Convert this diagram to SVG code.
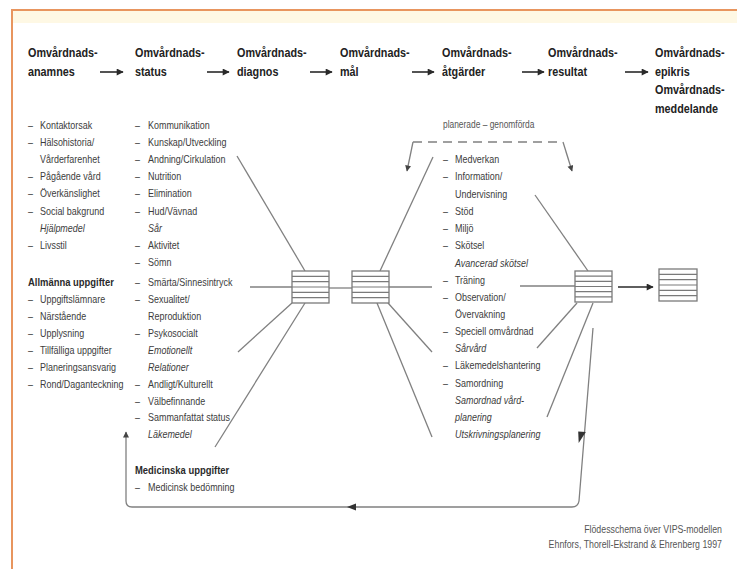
<svg xmlns="http://www.w3.org/2000/svg" width="737" height="569" viewBox="0 0 737 569">
<defs>
<style>
.h{font-family:"Liberation Sans",Arial,sans-serif;font-weight:bold;font-size:13.5px;fill:#222}
.t{font-family:"Liberation Sans",Arial,sans-serif;font-size:11.2px;fill:#3c3c3c}
.i{font-style:italic}
.b{font-family:"Liberation Sans",Arial,sans-serif;font-weight:bold;font-size:11.8px;fill:#2a2a2a}
.c{font-family:"Liberation Sans",Arial,sans-serif;font-size:10.5px;fill:#555}
.cap{font-family:"Liberation Sans",Arial,sans-serif;font-size:11px;fill:#555}
.ln{stroke:#808080;stroke-width:1.3;fill:none}
.ha{stroke:#2a2a2a;stroke-width:1.6;fill:none}
.box rect{fill:#fff;stroke:#7a7a7a;stroke-width:1.3}
.box line{stroke:#7a7a7a;stroke-width:1.2}
.ah{fill:#333}
</style>
<marker id="arr" viewBox="0 0 10 10" refX="9" refY="5" markerUnits="userSpaceOnUse" markerWidth="8" markerHeight="7" orient="auto">
<path d="M0,0 L10,5 L0,10 z" fill="#2a2a2a"/>
</marker>
<marker id="arrg" viewBox="0 0 10 10" refX="9" refY="5" markerUnits="userSpaceOnUse" markerWidth="7" markerHeight="6" orient="auto">
<path d="M0,0 L10,5 L0,10 z" fill="#444"/>
</marker>
</defs>
<rect x="0" y="0" width="737" height="569" fill="#fff"/>
<rect x="12" y="10" width="725" height="13" fill="#fef8e4"/>
<path d="M12,569 L12,10 L737,10" fill="none" stroke="#e8955e" stroke-width="2"/>

<g id="connectors">
<line class="ha" x1="100" y1="72" x2="123" y2="72" marker-end="url(#arr)"/>
<line class="ha" x1="207" y1="72" x2="229" y2="72" marker-end="url(#arr)"/>
<line class="ha" x1="310" y1="72" x2="332" y2="72" marker-end="url(#arr)"/>
<line class="ha" x1="412" y1="72" x2="434" y2="72" marker-end="url(#arr)"/>
<line class="ha" x1="522" y1="72" x2="544" y2="72" marker-end="url(#arr)"/>
<line class="ha" x1="625" y1="72" x2="648" y2="72" marker-end="url(#arr)"/>
<line class="ln" x1="237" y1="156" x2="305" y2="271"/>
<line class="ln" x1="250" y1="287" x2="292" y2="287"/>
<line class="ln" x1="292" y1="303" x2="238" y2="352"/>
<line class="ln" x1="305" y1="303" x2="215" y2="447"/>
<line class="ln" x1="329" y1="288" x2="352" y2="288"/>
<line class="ln" x1="380" y1="271" x2="433" y2="157"/>
<line class="ln" x1="389" y1="287" x2="432" y2="287"/>
<line class="ln" x1="388" y1="303" x2="432" y2="352"/>
<line class="ln" x1="377" y1="303" x2="432" y2="437"/>
<line class="ln" x1="535" y1="195" x2="588" y2="271"/>
<line class="ln" x1="520" y1="286" x2="575" y2="286"/>
<line class="ln" x1="577" y1="303" x2="537" y2="348"/>
<line class="ln" x1="593" y1="303" x2="547" y2="417"/>
<line class="ha" x1="618" y1="287" x2="653" y2="287" marker-end="url(#arr)"/>
<path class="ln" d="M413,142 L563,142" stroke-dasharray="9,6"/>
<path class="ln" d="M413,142 L407,171" marker-end="url(#arrg)"/>
<path class="ln" d="M563,142 L572,171" marker-end="url(#arrg)"/>
<path class="ln" d="M593,328 L579,501 Q578,507 572,507 L132,507 Q126,507 126,501 L126,432" marker-end="url(#arrg)"/>
<polygon class="ah" points="578.7,443 585.8,432 578.2,431.4"/>
<polygon class="ah" points="347,507 356,503.5 356,510.5"/>
</g>

<g id="col-anamnes">
<g transform="scale(0.8,1)">
<text class="h" x="35" y="57">Omvårdnads-</text>
<text class="h" x="35" y="76">anamnes</text>
<g class="t">
<text x="35" y="129">–</text><text x="50" y="129">Kontaktorsak</text>
<text x="35" y="146">–</text><text x="50" y="146">Hälsohistoria/</text>
<text x="50" y="163">Vårderfarenhet</text>
<text x="35" y="180">–</text><text x="50" y="180">Pågående vård</text>
<text x="35" y="197">–</text><text x="50" y="197">Överkänslighet</text>
<text x="35" y="215">–</text><text x="50" y="215">Social bakgrund</text>
<text class="i" x="50" y="232">Hjälpmedel</text>
<text x="35" y="249">–</text><text x="50" y="249">Livsstil</text>
</g>
<text class="b" x="35" y="286">Allmänna uppgifter</text>
<g class="t">
<text x="35" y="303">–</text><text x="50" y="303">Uppgiftslämnare</text>
<text x="35" y="320">–</text><text x="50" y="320">Närstående</text>
<text x="35" y="337">–</text><text x="50" y="337">Upplysning</text>
<text x="35" y="354">–</text><text x="50" y="354">Tillfälliga uppgifter</text>
<text x="35" y="371">–</text><text x="50" y="371">Planeringsansvarig</text>
<text x="35" y="388">–</text><text x="50" y="388">Rond/Daganteckning</text>
</g>
</g>
</g>

<g id="col-status">
<g transform="scale(0.8,1)">
<text class="h" x="168.75" y="57">Omvårdnads-</text>
<text class="h" x="168.75" y="76">status</text>
<g class="t">
<text x="168.75" y="129">–</text><text x="185" y="129">Kommunikation</text>
<text x="168.75" y="146">–</text><text x="185" y="146">Kunskap/Utveckling</text>
<text x="168.75" y="163">–</text><text x="185" y="163">Andning/Cirkulation</text>
<text x="168.75" y="180">–</text><text x="185" y="180">Nutrition</text>
<text x="168.75" y="197">–</text><text x="185" y="197">Elimination</text>
<text x="168.75" y="215">–</text><text x="185" y="215">Hud/Vävnad</text>
<text class="i" x="185" y="232">Sår</text>
<text x="168.75" y="249">–</text><text x="185" y="249">Aktivitet</text>
<text x="168.75" y="266">–</text><text x="185" y="266">Sömn</text>
<text x="168.75" y="286">–</text><text x="185" y="286">Smärta/Sinnesintryck</text>
<text x="168.75" y="303">–</text><text x="185" y="303">Sexualitet/</text>
<text x="185" y="320">Reproduktion</text>
<text x="168.75" y="337">–</text><text x="185" y="337">Psykosocialt</text>
<text class="i" x="185" y="354">Emotionellt</text>
<text class="i" x="185" y="371">Relationer</text>
<text x="168.75" y="388">–</text><text x="185" y="388">Andligt/Kulturellt</text>
<text x="168.75" y="405">–</text><text x="185" y="405">Välbefinnande</text>
<text x="168.75" y="421">–</text><text x="185" y="421">Sammanfattat status</text>
<text class="i" x="185" y="438">Läkemedel</text>
</g>
<text class="b" x="168.75" y="474">Medicinska uppgifter</text>
<g class="t">
<text x="168.75" y="491">–</text><text x="185" y="491">Medicinsk bedömning</text>
</g>
</g>
</g>

<g id="col-diagnos">
<g transform="scale(0.8,1)">
<text class="h" x="296.25" y="57">Omvårdnads-</text>
<text class="h" x="296.25" y="76">diagnos</text>
</g>
</g>

<g id="col-mal">
<g transform="scale(0.8,1)">
<text class="h" x="425" y="57">Omvårdnads-</text>
<text class="h" x="425" y="76">mål</text>
</g>
</g>

<g id="col-atgarder">
<g transform="scale(0.8,1)">
<text class="h" x="552.5" y="57">Omvårdnads-</text>
<text class="h" x="552.5" y="76">åtgärder</text>
<text class="c" x="553.75" y="128">planerade – genomförda</text>
<g class="t">
<text x="553.75" y="163">–</text><text x="568.75" y="163">Medverkan</text>
<text x="553.75" y="180">–</text><text x="568.75" y="180">Information/</text>
<text x="568.75" y="198">Undervisning</text>
<text x="553.75" y="215">–</text><text x="568.75" y="215">Stöd</text>
<text x="553.75" y="232">–</text><text x="568.75" y="232">Miljö</text>
<text x="553.75" y="249">–</text><text x="568.75" y="249">Skötsel</text>
<text class="i" x="568.75" y="267">Avancerad skötsel</text>
<text x="553.75" y="284">–</text><text x="568.75" y="284">Träning</text>
<text x="553.75" y="301">–</text><text x="568.75" y="301">Observation/</text>
<text x="568.75" y="318">Övervakning</text>
<text x="553.75" y="335">–</text><text x="568.75" y="335">Speciell omvårdnad</text>
<text class="i" x="568.75" y="352">Sårvård</text>
<text x="553.75" y="369">–</text><text x="568.75" y="369">Läkemedelshantering</text>
<text x="553.75" y="387">–</text><text x="568.75" y="387">Samordning</text>
<text class="i" x="568.75" y="404">Samordnad vård-</text>
<text class="i" x="568.75" y="421">planering</text>
<text class="i" x="568.75" y="438">Utskrivningsplanering</text>
</g>
</g>
</g>

<g id="col-resultat">
<g transform="scale(0.8,1)">
<text class="h" x="685" y="57">Omvårdnads-</text>
<text class="h" x="685" y="76">resultat</text>
</g>
</g>

<g id="col-epikris">
<g transform="scale(0.8,1)">
<text class="h" x="818.75" y="57">Omvårdnads-</text>
<text class="h" x="818.75" y="76">epikris</text>
<text class="h" x="818.75" y="94">Omvårdnads-</text>
<text class="h" x="818.75" y="113">meddelande</text>
</g>
</g>

<g id="box-diagnos" class="box">
<rect x="292" y="271" width="37" height="32"/>
<line x1="292" y1="276.3" x2="329" y2="276.3"/><line x1="292" y1="281.7" x2="329" y2="281.7"/><line x1="292" y1="287" x2="329" y2="287"/><line x1="292" y1="292.3" x2="329" y2="292.3"/><line x1="292" y1="297.7" x2="329" y2="297.7"/>
</g>
<g id="box-mal" class="box">
<rect x="352" y="271" width="37" height="32"/>
<line x1="352" y1="276.3" x2="389" y2="276.3"/><line x1="352" y1="281.7" x2="389" y2="281.7"/><line x1="352" y1="287" x2="389" y2="287"/><line x1="352" y1="292.3" x2="389" y2="292.3"/><line x1="352" y1="297.7" x2="389" y2="297.7"/>
</g>
<g id="box-resultat" class="box">
<rect x="575" y="271" width="37" height="31"/>
<line x1="575" y1="276.2" x2="612" y2="276.2"/><line x1="575" y1="281.3" x2="612" y2="281.3"/><line x1="575" y1="286.5" x2="612" y2="286.5"/><line x1="575" y1="291.7" x2="612" y2="291.7"/><line x1="575" y1="296.8" x2="612" y2="296.8"/>
</g>
<g id="box-epikris" class="box">
<rect x="659" y="269" width="38" height="32"/>
<line x1="659" y1="274.3" x2="697" y2="274.3"/><line x1="659" y1="279.7" x2="697" y2="279.7"/><line x1="659" y1="285" x2="697" y2="285"/><line x1="659" y1="290.3" x2="697" y2="290.3"/><line x1="659" y1="295.7" x2="697" y2="295.7"/>
</g>

<g id="caption">
<g transform="scale(0.8,1)">
<text class="cap" x="902.5" y="533" text-anchor="end">Flödesschema över VIPS-modellen</text>
<text class="cap" x="902.5" y="548" text-anchor="end">Ehnfors, Thorell-Ekstrand &amp; Ehrenberg 1997</text>
</g>
</g>
</svg>
